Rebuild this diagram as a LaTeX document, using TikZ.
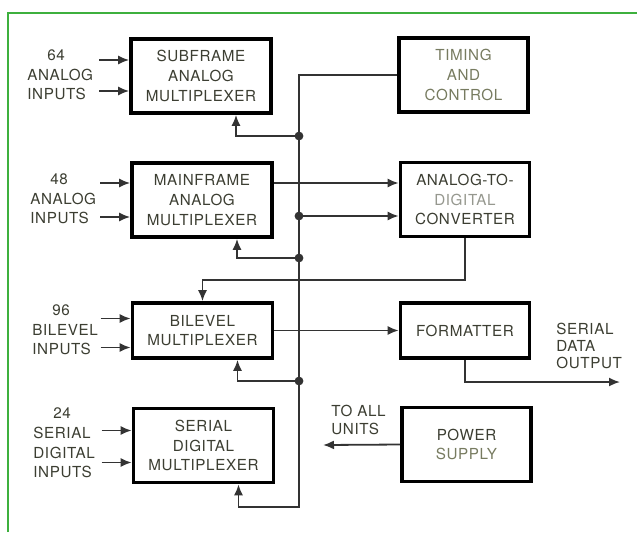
\documentclass[tikz,border=0pt]{standalone}
\usepackage{fontspec}
\setmainfont{TeX Gyre Heros}[LetterSpace=4]
\usepackage{xcolor}
\usepackage{tikz}
\usetikzlibrary{arrows.meta,positioning}

\definecolor{frame}{HTML}{3DB03D}
\definecolor{ink}{HTML}{3C3E32}
\definecolor{faint}{HTML}{777B60}
\definecolor{pale}{HTML}{96988F}
\definecolor{wire}{HTML}{333333}

\begin{document}
\begin{tikzpicture}[
    x=0.5pt,
    y=-0.5pt,
    font=\fontsize{7.6}{9.8}\selectfont,
    block/.style={
        draw=black,
        line width=1.8pt,
        align=center,
        text=ink,
        minimum width=70pt,
        minimum height=37pt,
        inner sep=1pt
    },
    rblock/.style={
        block,
        minimum width=64.5pt
    },
    lbl/.style={
        align=left,
        text=ink,
        inner sep=0pt,
        anchor=west
    },
    rlbl/.style={
        lbl,
        font=\fontsize{7.6}{8.6}\selectfont
    },
    line/.style={-{Latex[length=5.5pt,width=4.5pt]}, draw=wire, line width=0.9pt}
]

\useasboundingbox (0,0) rectangle (637,532);
\fill[white] (0,0) rectangle (637,532);
\draw[frame, line width=1.2pt] (8,532) -- (8,13) -- (637,13);

% --- Multiplexers ---
\node[block] (sub) at (201,76) {SUBFRAME\\ANALOG\\MULTIPLEXER};
\node[block] (main) at (202,200) {MAINFRAME\\ANALOG\\MULTIPLEXER};
\node[block, minimum height=27.5pt] (bil) at (202.5,330.5) {BILEVEL\\MULTIPLEXER};
\node[block] (ser) at (203.5,445.5) {SERIAL\\DIGITAL\\MULTIPLEXER};

% --- Right column ---
\node[rblock, text=faint] (tim) at (463.5,75) {TIMING\\AND\\CONTROL};
\node[rblock] (adc) at (465,199.5) {ANALOG-TO-\\\textcolor{pale}{DIGITAL}\\CONVERTER};
\node[rblock, minimum height=27.5pt] (fmt) at (465,330.5) {FORMATTER};
\node[rblock] (pwr) at (466.5,444.5) {POWER\\\textcolor{faint}{SUPPLY}};

% --- Input labels ---
\node[lbl] (in64) at (27,75) {\hspace*{10pt}64\\ANALOG\\INPUTS};
\node[lbl] (in48) at (30,199) {\hspace*{10pt}48\\ANALOG\\INPUTS};
\node[lbl] (in96) at (32,330) {\hspace*{10pt}96\\BILEVEL\\INPUTS};
\node[lbl] (in24) at (33,443) {\hspace*{10pt}24\\SERIAL\\DIGITAL\\INPUTS};

\node[rlbl] (out) at (556,346) {SERIAL\\DATA\\OUTPUT};
\node[rlbl] (all) at (331,420) {TO ALL\\UNITS};

% --- Bus points ---
\coordinate (d1) at (299,136);
\coordinate (d2) at (299,216);
\coordinate (d3) at (299,258);
\coordinate (d4) at (299,381);
\coordinate (bend) at (299,507);
\coordinate (sdo) at (620,382);
\coordinate (units) at (323,445);

% --- Inputs ---
\foreach \b/\u/\v in {sub/-16/15, main/-17/17, bil/-12/17, ser/-15/17}{
    \draw[line] ([shift={(-30,\u)}]\b.west) -- ([shift={(0,\u)}]\b.west);
    \draw[line] ([shift={(-30,\v)}]\b.west) -- ([shift={(0,\v)}]\b.west);
}

% --- Control bus ---
\draw[line] (tim.west) -| (bend) -| ([xshift=17.5pt]ser.south);
\draw[line] (d1) -| ([xshift=17.5pt]sub.south);
\draw[line] (d3) -| ([xshift=17.5pt]main.south);
\draw[line] (d4) -| ([xshift=17.5pt]bil.south);
\draw[line] (d2) -- (d2 -| adc.west);
\foreach \d in {d1,d2,d3,d4}
    \fill[wire] (\d) circle (2.2pt);

% --- Data path ---
\draw[line] ([yshift=8.5pt]main.east) -- ([yshift=8.5pt]main.east -| adc.west);
\draw[line] (adc.south) -- ++(0,42) -| (bil.north);
\draw[line] (bil.east) -- (fmt.west);
\draw[line] (fmt.south) |- (sdo);
\draw[line] (pwr.west) -- (units);

\end{tikzpicture}
\end{document}
